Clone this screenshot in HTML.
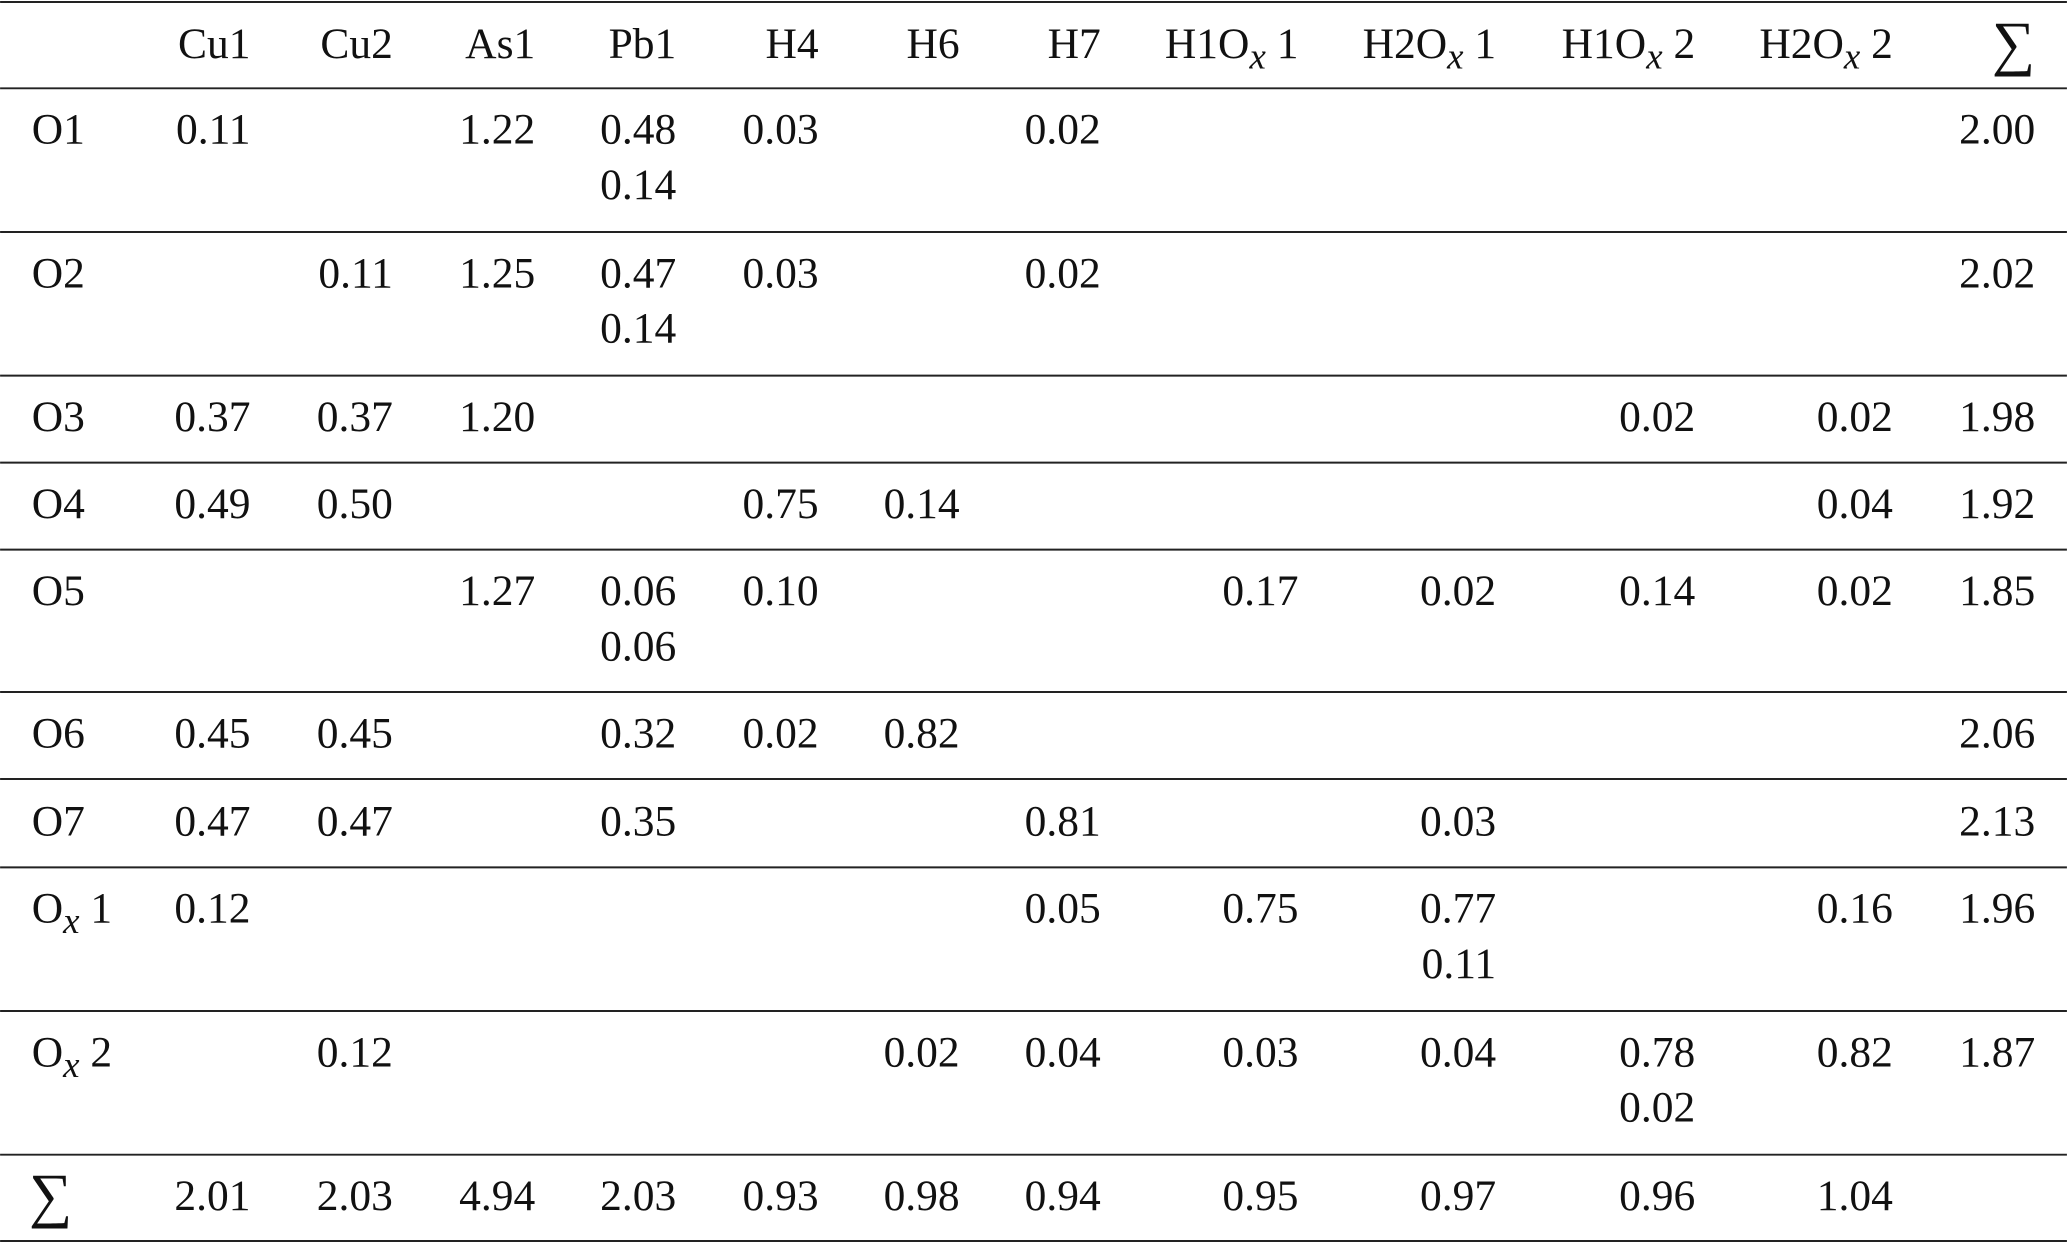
<!DOCTYPE html>
<html><head><meta charset="utf-8"><style>
html,body{margin:0;padding:0;background:#fff;}
svg{display:block;}
text{font-family:"Liberation Serif",serif;font-size:33px;fill:#111;}
.s{font-style:italic;font-size:28px;}
</style></head><body>
<svg width="2067" height="1243" viewBox="0 0 1568 943" xmlns="http://www.w3.org/2000/svg">
<g stroke="#222" stroke-width="1.5">
<line x1="0" y1="1.5" x2="1568" y2="1.5"/>
<line x1="0" y1="67" x2="1568" y2="67"/>
<line x1="0" y1="176" x2="1568" y2="176"/>
<line x1="0" y1="285" x2="1568" y2="285"/>
<line x1="0" y1="351" x2="1568" y2="351"/>
<line x1="0" y1="417" x2="1568" y2="417"/>
<line x1="0" y1="525" x2="1568" y2="525"/>
<line x1="0" y1="591" x2="1568" y2="591"/>
<line x1="0" y1="658" x2="1568" y2="658"/>
<line x1="0" y1="767" x2="1568" y2="767"/>
<line x1="0" y1="876" x2="1568" y2="876"/>
<line x1="0" y1="941.5" x2="1568" y2="941.5"/>
</g>
<g text-anchor="end">
<text x="190" y="44">Cu1</text><text x="298" y="44">Cu2</text><text x="406" y="44">As1</text><text x="513" y="44">Pb1</text><text x="621" y="44">H4</text><text x="728" y="44">H6</text><text x="835" y="44">H7</text>
<text x="985" y="44">H1O<tspan class="s" dy="8">x</tspan><tspan dy="-8"> 1</tspan></text>
<text x="1135" y="44">H2O<tspan class="s" dy="8">x</tspan><tspan dy="-8"> 1</tspan></text>
<text x="1286" y="44">H1O<tspan class="s" dy="8">x</tspan><tspan dy="-8"> 2</tspan></text>
<text x="1436" y="44">H2O<tspan class="s" dy="8">x</tspan><tspan dy="-8"> 2</tspan></text>
<text x="1544" y="48" style="font-size:46px">∑</text>
</g>
<g>
<text x="24" y="109">O1</text><text x="24" y="218">O2</text><text x="24" y="327">O3</text><text x="24" y="393">O4</text><text x="24" y="459">O5</text><text x="24" y="567">O6</text><text x="24" y="634">O7</text>
<text x="24" y="700">O<tspan class="s" dy="8">x</tspan><tspan dy="-8"> 1</tspan></text>
<text x="24" y="809">O<tspan class="s" dy="8">x</tspan><tspan dy="-8"> 2</tspan></text>
<text x="22" y="922" style="font-size:46px">∑</text>
</g>
<g text-anchor="end">
<!-- O1 -->
<text x="190" y="109">0.11</text><text x="406" y="109">1.22</text><text x="513" y="109">0.48</text><text x="513" y="151">0.14</text><text x="621" y="109">0.03</text><text x="835" y="109">0.02</text><text x="1544" y="109">2.00</text>
<!-- O2 -->
<text x="298" y="218">0.11</text><text x="406" y="218">1.25</text><text x="513" y="218">0.47</text><text x="513" y="260">0.14</text><text x="621" y="218">0.03</text><text x="835" y="218">0.02</text><text x="1544" y="218">2.02</text>
<!-- O3 -->
<text x="190" y="327">0.37</text><text x="298" y="327">0.37</text><text x="406" y="327">1.20</text><text x="1286" y="327">0.02</text><text x="1436" y="327">0.02</text><text x="1544" y="327">1.98</text>
<!-- O4 -->
<text x="190" y="393">0.49</text><text x="298" y="393">0.50</text><text x="621" y="393">0.75</text><text x="728" y="393">0.14</text><text x="1436" y="393">0.04</text><text x="1544" y="393">1.92</text>
<!-- O5 -->
<text x="406" y="459">1.27</text><text x="513" y="459">0.06</text><text x="513" y="501">0.06</text><text x="621" y="459">0.10</text><text x="985" y="459">0.17</text><text x="1135" y="459">0.02</text><text x="1286" y="459">0.14</text><text x="1436" y="459">0.02</text><text x="1544" y="459">1.85</text>
<!-- O6 -->
<text x="190" y="567">0.45</text><text x="298" y="567">0.45</text><text x="513" y="567">0.32</text><text x="621" y="567">0.02</text><text x="728" y="567">0.82</text><text x="1544" y="567">2.06</text>
<!-- O7 -->
<text x="190" y="634">0.47</text><text x="298" y="634">0.47</text><text x="513" y="634">0.35</text><text x="835" y="634">0.81</text><text x="1135" y="634">0.03</text><text x="1544" y="634">2.13</text>
<!-- Ox1 -->
<text x="190" y="700">0.12</text><text x="835" y="700">0.05</text><text x="985" y="700">0.75</text><text x="1135" y="700">0.77</text><text x="1135" y="742">0.11</text><text x="1436" y="700">0.16</text><text x="1544" y="700">1.96</text>
<!-- Ox2 -->
<text x="298" y="809">0.12</text><text x="728" y="809">0.02</text><text x="835" y="809">0.04</text><text x="985" y="809">0.03</text><text x="1135" y="809">0.04</text><text x="1286" y="809">0.78</text><text x="1286" y="851">0.02</text><text x="1436" y="809">0.82</text><text x="1544" y="809">1.87</text>
<!-- Sum -->
<text x="190" y="918">2.01</text><text x="298" y="918">2.03</text><text x="406" y="918">4.94</text><text x="513" y="918">2.03</text><text x="621" y="918">0.93</text><text x="728" y="918">0.98</text><text x="835" y="918">0.94</text><text x="985" y="918">0.95</text><text x="1135" y="918">0.97</text><text x="1286" y="918">0.96</text><text x="1436" y="918">1.04</text>
</g>
</svg>
</body></html>
